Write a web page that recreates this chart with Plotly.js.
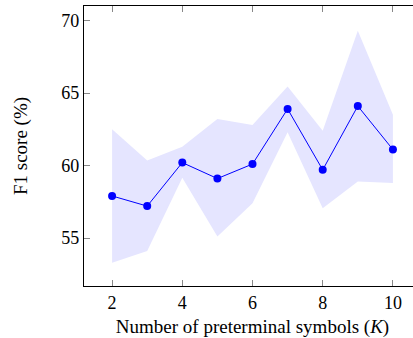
<!DOCTYPE html>
<html>
<head>
<meta charset="utf-8">
<script src="https://cdn.plot.ly/plotly-3.0.1.min.js"></script>
<style>
html,body{margin:0;padding:0;overflow:hidden;background:#fff;}
#chart{width:430px;height:338px;}
</style>
</head>
<body>
<div id="chart"></div>
<script>
const K = [2, 3, 4, 5, 6, 7, 8, 9, 10];
const f1Mean = [57.9, 57.2, 60.2, 59.1, 60.1, 63.9, 59.7, 64.1, 61.1];
const f1Upper = [62.5, 60.35, 61.3, 63.2, 62.8, 65.45, 62.4, 69.3, 63.5];
const f1Lower = [53.3, 54.1, 59.15, 55.1, 57.4, 62.3, 57.05, 58.9, 58.8];
const xTicks = [2, 4, 6, 8, 10];
const yTicks = [55, 60, 65, 70];

const font = "Liberation Serif, serif";

const traces = [
  {x: K, y: f1Lower, mode: 'lines', line: {width: 0, color: 'rgba(0,0,0,0)'}, hoverinfo: 'skip', showlegend: false},
  {x: K, y: f1Upper, mode: 'lines', line: {width: 0, color: 'rgba(0,0,0,0)'}, fill: 'tonexty', fillcolor: '#e5e5ff', hoverinfo: 'skip', showlegend: false},
  {x: K, y: f1Mean, mode: 'lines+markers', line: {color: '#0000ff', width: 1}, marker: {color: '#0000ff', size: 8}, showlegend: false}
];

const layout = {
  width: 430, height: 338,
  margin: {l: 84, r: 9, t: 6, b: 52},
  paper_bgcolor: '#fff', plot_bgcolor: '#fff',
  font: {family: font, size: 18, color: '#000'},
  xaxis: {
    range: [1.2, 10.8], tickvals: xTicks, ticktext: xTicks.map(String),
    tickfont: {family: font, size: 18, color: '#000'},
    showgrid: false, zeroline: false, showline: true, linecolor: '#000', linewidth: 1.2,
    mirror: 'ticks', ticks: 'inside', ticklen: 6, tickcolor: '#888', tickwidth: 1,
    title: {text: 'Number of preterminal symbols (<i>K</i>)', font: {family: font, size: 19, color: '#000'}, standoff: 10}
  },
  yaxis: {
    range: [51.69, 71.0], tickvals: yTicks, ticktext: yTicks.map(String),
    tickfont: {family: font, size: 18, color: '#000'},
    showgrid: false, zeroline: false, showline: true, linecolor: '#000', linewidth: 1.2,
    mirror: 'ticks', ticks: 'inside', ticklen: 6, tickcolor: '#888', tickwidth: 1,
    title: {text: 'F1 score (%)', font: {family: font, size: 19, color: '#000'}, standoff: 28}
  }
};

Plotly.newPlot('chart', traces, layout, {staticPlot: true, displayModeBar: false});
</script>
</body>
</html>
